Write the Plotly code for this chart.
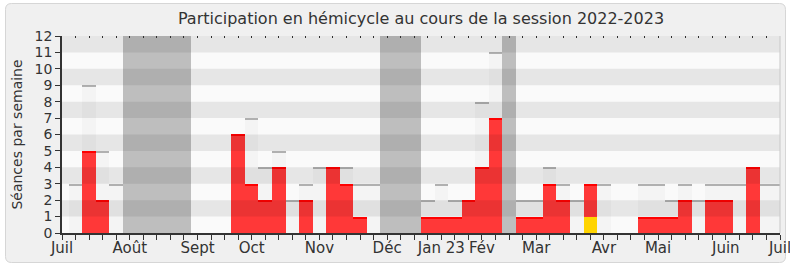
import plotly.graph_objects as go

# ---- data (one value per week, week 0 = début juillet 2022) ----
weeks = list(range(54))
seances_total = [0, 3, 9, 5, 3, 0, 0, 0, 0, 0,
                 0, 0, 0, 6, 7, 4, 5, 2, 3, 4,
                 4, 4, 3, 3, 0, 0, 0, 2, 3, 2,
                 2, 8, 11, 0, 2, 2, 4, 3, 2, 3,
                 3, 0, 0, 3, 3, 2, 3, 2, 3, 3,
                 3, 4, 3, 3]
participation = [0, 0, 5, 2, 0, 0, 0, 0, 0, 0,
                 0, 0, 0, 6, 3, 2, 4, 0, 2, 0,
                 4, 3, 1, 0, 0, 0, 0, 1, 1, 1,
                 2, 4, 7, 0, 1, 1, 3, 2, 0, 3,
                 0, 0, 0, 1, 1, 1, 2, 0, 2, 2,
                 0, 4, 0, 0]
autre = [0] * 39 + [1] + [0] * 14
vacances = [0, 0, 0, 0, 0, 1, 1, 1, 1, 1,
            0, 0, 0, 0, 0, 0, 0, 0, 0, 0,
            0, 0, 0, 0, 1, 1, 1, 0, 0, 0,
            0, 0, 0, 1, 0, 0, 0, 0, 0, 0,
            0, 0, 0, 0, 0, 0, 0, 0, 0, 0,
            0, 0, 0, 0]
month_labels = ["Juil", "Août", "Sept", "Oct", "Nov", "Déc", "Jan 23",
                "Fév", "Mar", "Avr", "Mai", "Juin", "Juil"]
month_weeks = [0, 5, 10, 14, 19, 24, 28, 31, 35, 40, 44, 49, 53]
y_max = 12

FONT = "DejaVu Sans"
LINE_H = 0.09


def nz(v):
    return [x if x else None for x in v]


fig = go.Figure()
common = dict(width=1, hoverinfo="skip", showlegend=False)

# vacation bands
fig.add_trace(go.Bar(x=weeks, y=[y_max if v else None for v in vacances],
                     marker=dict(color="#bebebe", line=dict(width=0)), **common))
# total sessions
fig.add_trace(go.Bar(x=weeks, y=nz(seances_total),
                     marker=dict(color="#f4f4f4", line=dict(width=0)), **common))
fig.add_trace(go.Bar(x=weeks, y=[LINE_H if v else None for v in seances_total],
                     base=[v - LINE_H for v in seances_total],
                     marker=dict(color="#b0b0b0", line=dict(width=0)), **common))
# participation
fig.add_trace(go.Bar(x=weeks, y=nz(participation),
                     marker=dict(color="#ff3838", line=dict(width=0)), **common))
fig.add_trace(go.Bar(x=weeks, y=[LINE_H if v else None for v in participation],
                     base=[v - LINE_H for v in participation],
                     marker=dict(color="#ff0000", line=dict(width=0)), **common))
# other presence
fig.add_trace(go.Bar(x=weeks, y=nz(autre),
                     marker=dict(color="#ffd400", line=dict(width=0)), **common))
# invisible trace so the top tick axis is drawn
fig.add_trace(go.Scatter(x=weeks, y=[None] * len(weeks), xaxis="x2", yaxis="y",
                         mode="lines", hoverinfo="skip", showlegend=False))

shapes = []
shapes.append(dict(type="rect", xref="x", yref="y", x0=0, x1=53, y0=0, y1=y_max,
                   fillcolor="#fafafa", line=dict(width=0), layer="below"))
for k in range(1, y_max, 2):
    shapes.append(dict(type="rect", xref="x", yref="y", x0=0, x1=53, y0=k, y1=k + 1,
                       fillcolor="rgba(0,0,0,0.08)", line=dict(width=0), layer="above"))
shapes.append(dict(type="line", xref="paper", yref="paper", x0=1, x1=1, y0=0, y1=1,
                   line=dict(color="#c8c8c8", width=1), layer="above"))

L, R, T, B = 62, 780, 36, 233


def px(xp, yp):
    return f"{(xp - L) / (R - L):.5f},{(B - yp) / (B - T):.5f}"


x0, x1, y0, y1, r = 5.5, 785.5, 3.5, 262.5, 6
path = (f"M{px(x0 + r, y0)} L{px(x1 - r, y0)} Q{px(x1, y0)} {px(x1, y0 + r)} "
        f"L{px(x1, y1 - r)} Q{px(x1, y1)} {px(x1 - r, y1)} "
        f"L{px(x0 + r, y1)} Q{px(x0, y1)} {px(x0, y1 - r)} "
        f"L{px(x0, y0 + r)} Q{px(x0, y0)} {px(x0 + r, y0)} Z")
shapes.insert(0, dict(type="path", xref="paper", yref="paper", path=path,
                      fillcolor="#f0f0f0", line=dict(color="#d6d6d6", width=1),
                      layer="below"))

ticktext = [month_labels[month_weeks.index(w)] if w in month_weeks else "" for w in weeks]

fig.update_layout(
    width=790, height=267,
    margin=dict(l=L, r=790 - R, t=T, b=267 - B, autoexpand=False),
    paper_bgcolor="#ffffff",
    plot_bgcolor="#fafafa",
    barmode="overlay",
    bargap=0,
    font=dict(family=FONT, color="#333333"),
    title=dict(text="Participation en hémicycle au cours de la session 2022-2023",
               x=0.5, xref="paper", xanchor="center", y=1 - 18 / 267, yanchor="middle",
               font=dict(family=FONT, size=16, color="#333333")),
    shapes=shapes,
    xaxis=dict(range=[0, 53], tickmode="array", tickvals=weeks, ticktext=ticktext,
               ticks="outside", ticklen=5, tickcolor="#333333", tickwidth=1,
               showline=True, linecolor="#333333", linewidth=1.5,
               showgrid=False, zeroline=False, automargin=False,
               ticklabeloverflow="allow", ticklabelstandoff=-5,
               tickfont=dict(family=FONT, size=15, color="#333333")),
    xaxis2=dict(range=[0, 53], overlaying="x", side="top", tickmode="array",
                tickvals=weeks, showticklabels=False, ticks="inside", ticklen=2,
                tickcolor="#333333", showline=False, showgrid=False, zeroline=False,
                automargin=False),
    yaxis=dict(range=[0, y_max], dtick=1, tick0=0,
               ticks="outside", ticklen=5, tickcolor="#333333",
               showline=True, linecolor="#333333", linewidth=1.5,
               showgrid=False, zeroline=False, automargin=False,
               tickfont=dict(family=FONT, size=14, color="#333333"),
               title=dict(text="Séances par semaine", standoff=9,
                          font=dict(family=FONT, size=14, color="#333333"))),
)

fig.write_html("out.html")
